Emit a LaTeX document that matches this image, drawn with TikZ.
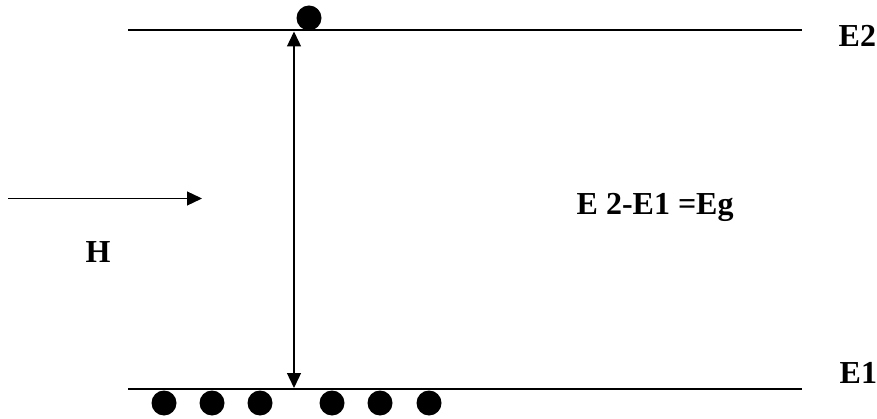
\documentclass[tikz,border=0pt]{standalone}
\usepackage{fontspec}
\setmainfont{Liberation Serif}
\usetikzlibrary{arrows.meta}
\begin{document}
\begin{tikzpicture}[x=1pt, y=-1pt, >={Triangle[length=15pt,width=14pt]}, line width=1.3pt,
    particle/.style={circle, fill=black, inner sep=0pt, minimum size=25pt},
    lbl/.style={anchor=base west, inner sep=0pt, font=\fontsize{32}{38}\selectfont\bfseries}]
  \useasboundingbox (0,0) rectangle (877,419);

  \coordinate (e2left) at (128,30);
  \coordinate (e2right) at (802,30);
  \coordinate (e1left) at (128,389);
  \coordinate (e1right) at (802,389);
  \draw (e2left) -- (e2right);
  \draw (e1left) -- (e1right);

  \node[particle] (excited) at (309,18) {};
  \foreach \x [count=\i] in {164,212,260,332,380,429}
    \node[particle] (ground\i) at (\x,403) {};

  \coordinate (gaptop) at (294,31.5);
  \coordinate (gapbot) at (294,388);
  \draw[<->] (gaptop) -- (gapbot);

  \coordinate (hstart) at (8,198.5);
  \coordinate (hend) at (202,198.5);
  \draw[->] (hstart) -- (hend);

  \node[lbl] (lvltwo) at (838,47) {E2};
  \node[lbl] (lvlone) at (839,383) {E1};
  \node[lbl] (gap) at (576,215) {E 2-E1 =Eg};
  \node[lbl] (hlbl) at (85,263) {H};
\end{tikzpicture}
\end{document}
